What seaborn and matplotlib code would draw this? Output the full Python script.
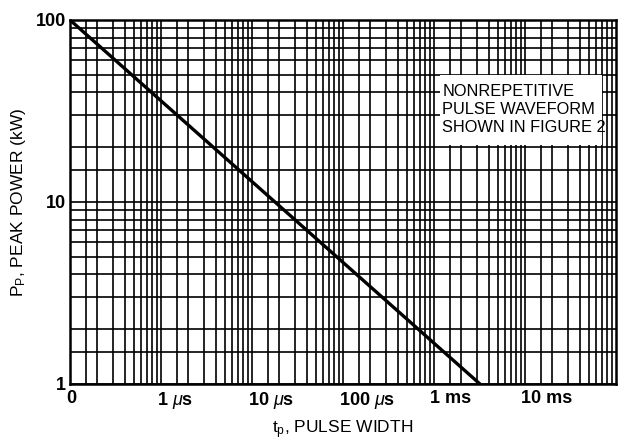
import matplotlib
matplotlib.use("Agg")
import matplotlib.pyplot as plt
import matplotlib.ticker as mticker
import matplotlib.transforms as mtransforms
from matplotlib.patches import Rectangle
import pandas as pd
import seaborn as sns

# data (pulse width in microseconds, peak power in kW)
pulse_width_us = [0.1, 3200]
peak_power_kw = [100, 1]

xtick_values = [0.1, 1, 10, 100, 1000, 10000]
xtick_labels = ["0", r"1 $\mu$s", r"10 $\mu$s", r"100 $\mu$s", "1 ms", "10 ms"]
ytick_values = [1, 10, 100]
ytick_labels = ["1", "10", "100"]
grid_subs = [1.5, 2, 3, 4, 5, 6, 7, 8, 9]

note_text = "NONREPETITIVE\nPULSE WAVEFORM\nSHOWN IN FIGURE 2"

sns.set_style("white")
plt.rcParams['font.family'] = ['Liberation Sans Narrow', 'DejaVu Sans Condensed', 'Liberation Sans']
plt.rcParams['mathtext.fontset'] = 'custom'
plt.rcParams['mathtext.rm'] = 'Liberation Sans'
plt.rcParams['mathtext.it'] = 'Liberation Sans:italic'
plt.rcParams['mathtext.bf'] = 'Liberation Sans:bold'
for key in ['text.color', 'axes.labelcolor', 'xtick.color', 'ytick.color']:
    plt.rcParams[key] = 'black'

df = pd.DataFrame({"width": pulse_width_us, "power": peak_power_kw})

fig = plt.figure(figsize=(6.18, 4.43), dpi=100)
ax = fig.add_axes([70 / 618, 59 / 443, 546 / 618, 364 / 443])

sns.lineplot(data=df, x="width", y="power", ax=ax, color="black",
             linewidth=2.4, zorder=5, legend=False)

ax.set_xscale("log")
ax.set_yscale("log")
ax.set_xlim(0.1, 100000)
ax.set_ylim(1, 100)

# log paper grid
ax.xaxis.set_minor_locator(mticker.LogLocator(base=10, subs=grid_subs, numticks=30))
ax.yaxis.set_minor_locator(mticker.LogLocator(base=10, subs=grid_subs, numticks=30))
ax.xaxis.set_minor_formatter(mticker.NullFormatter())
ax.yaxis.set_minor_formatter(mticker.NullFormatter())
ax.grid(True, which="both", color="black", linewidth=1.2, zorder=1)
ax.set_axisbelow(True)

ax.set_xticks(xtick_values)
ax.set_xticklabels(xtick_labels, fontsize=13, fontweight="bold")
ax.set_yticks(ytick_values)
ax.set_yticklabels(ytick_labels, fontsize=13, fontweight="bold")
ax.tick_params(which="both", length=0)
ax.tick_params(axis="x", pad=4)
ax.tick_params(axis="y", pad=3)

shift = mtransforms.ScaledTranslation(-3 / 72, 0, fig.dpi_scale_trans)
for lab in ax.get_xticklabels():
    lab.set_horizontalalignment("left")
    lab.set_transform(lab.get_transform() + shift)

for sp in ax.spines.values():
    sp.set_color("black")
    sp.set_linewidth(1.8)

# white note box over the grid
ax.add_patch(Rectangle((0.678, 0.657), 0.296, 0.192, transform=ax.transAxes,
                       facecolor="white", edgecolor="none", zorder=3))
ax.text(0.682, 0.753, note_text, transform=ax.transAxes, fontsize=11.8,
        va="center", ha="left", linespacing=1.25, zorder=4)

ax.set_xlabel(r"t$_{\mathrm{p}}$, PULSE WIDTH", fontsize=12.5)
ax.set_ylabel(r"P$_{\mathrm{P}}$, PEAK POWER (kW)", fontsize=12.5)
ax.xaxis.set_label_coords(0.5, -0.095)
ax.yaxis.set_label_coords(-0.077, 0.5)

fig.savefig("out.png", dpi=100)
